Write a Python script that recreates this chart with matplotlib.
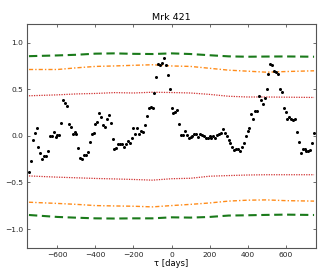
import numpy as np
import matplotlib
matplotlib.use("Agg")
import matplotlib.pyplot as plt

# ---- data ----
tau = list(range(-750, 751, 10))
lccf = [
    -0.385, -0.267, -0.043, 0.036, 0.083, -0.115, -0.187, -0.245, -0.212, -0.212,
    -0.165, 0.003, 0.003, 0.040, -0.014, 0.010, 0.010, 0.143, 0.380, 0.350,
    0.320, 0.130, 0.090, 0.018, 0.046, 0.025, -0.126, -0.237, -0.245, -0.205,
    -0.205, -0.176, -0.068, 0.025, 0.030, 0.130, 0.150, 0.250, 0.200, 0.115,
    0.090, 0.180, 0.220, 0.140, -0.029, -0.137, -0.130, -0.086, -0.086, -0.086,
    -0.122, -0.090, -0.054, -0.072, -0.018, 0.083, 0.025, 0.083, 0.025, 0.050,
    0.040, 0.115, 0.215, 0.300, 0.310, 0.300, 0.456, 0.633, 0.766, 0.758,
    0.777, 0.838, 0.758, 0.655, 0.500, 0.300, 0.245, 0.255, 0.277, 0.130,
    0.010, 0.007, 0.050, 0.014, -0.025, -0.014, 0.000, 0.020, 0.020, -0.007,
    0.020, 0.007, -0.003, -0.025, -0.025, 0.000, -0.018, 0.000, -0.018, 0.007,
    0.020, 0.029, 0.075, 0.029, 0.000, -0.043, -0.072, -0.115, -0.150, -0.140,
    -0.137, -0.158, -0.115, -0.072, 0.003, 0.054, 0.079, 0.237, 0.176, 0.262,
    0.270, 0.430, 0.380, 0.340, 0.405, 0.500, 0.665, 0.766, 0.758, 0.700,
    0.690, 0.660, 0.500, 0.467, 0.300, 0.260, 0.180, 0.197, 0.180, 0.165,
    0.180, 0.046, -0.068, -0.180, -0.137, -0.143, -0.158, -0.158, -0.150, -0.079,
    0.030,
]

tau_band = [-750, -600, -500, -400, -300, -200, -100, 0, 100, 200, 300, 400, 500, 600, 750]
green_up = [0.855, 0.863, 0.870, 0.882, 0.885, 0.880, 0.878, 0.885, 0.878, 0.865, 0.853, 0.849, 0.851, 0.852, 0.849]
orange_up = [0.712, 0.712, 0.730, 0.745, 0.750, 0.757, 0.763, 0.750, 0.745, 0.725, 0.705, 0.694, 0.683, 0.690, 0.698]
red_up = [0.430, 0.440, 0.450, 0.455, 0.464, 0.460, 0.468, 0.465, 0.460, 0.445, 0.425, 0.417, 0.417, 0.415, 0.412]
red_lo = [-0.430, -0.443, -0.450, -0.457, -0.462, -0.468, -0.475, -0.460, -0.455, -0.433, -0.426, -0.420, -0.417, -0.417, -0.417]
orange_lo = [-0.712, -0.725, -0.735, -0.748, -0.752, -0.755, -0.762, -0.748, -0.735, -0.720, -0.700, -0.690, -0.687, -0.695, -0.700]
green_lo = [-0.849, -0.870, -0.878, -0.885, -0.887, -0.885, -0.885, -0.874, -0.877, -0.870, -0.855, -0.852, -0.848, -0.845, -0.849]

xticks = [-600, -400, -200, 0, 200, 400, 600]
yticks = [-1.0, -0.5, 0.0, 0.5, 1.0]

# ---- plot ----
fig = plt.figure(figsize=(3.34, 2.76), dpi=100)
ax = fig.add_axes([0.081, 0.1025, 0.865, 0.8105])

ax.plot(tau_band, green_up, ls=(0, (4, 2.2)), color="#1a7a1a", lw=1.5)
ax.plot(tau_band, green_lo, ls=(0, (4, 2.2)), color="#1a7a1a", lw=1.5)
ax.plot(tau_band, orange_up, ls=(0, (3, 1.5, 1, 1.5)), color="#ff8c1a", lw=1.0)
ax.plot(tau_band, orange_lo, ls=(0, (3, 1.5, 1, 1.5)), color="#ff8c1a", lw=1.0)
ax.plot(tau_band, red_up, ls=(0, (1, 1)), color="#d03030", lw=0.9)
ax.plot(tau_band, red_lo, ls=(0, (1, 1)), color="#d03030", lw=0.9)
ax.plot(tau, lccf, "o", color="black", ms=2.2, mew=0)

ax.set_xlim(-760, 760)
ax.set_ylim(-1.2, 1.2)
ax.set_xticks(xticks)
ax.set_yticks(yticks)
ax.set_xticklabels([f"{v:d}".replace("-", "\u2212") for v in xticks])
ax.set_yticklabels([f"{v:.1f}".replace("-", "\u2212") for v in yticks])
ax.tick_params(direction="in", top=True, right=True, length=2.5, width=0.5,
               labelsize=5.4, pad=3, colors="#333333", labelcolor="#222222")
for s in ax.spines.values():
    s.set_color("#555555")
    s.set_linewidth(0.8)

ax.set_title("Mrk 421", fontsize=6.8, pad=3)
ax.set_xlabel("\u03c4 [days]", fontsize=6.0, labelpad=1)
ax.set_ylabel("LCCF", fontsize=5.6)
ax.yaxis.set_label_coords(-0.085, 0.5)

fig.savefig("out.png", dpi=100)
